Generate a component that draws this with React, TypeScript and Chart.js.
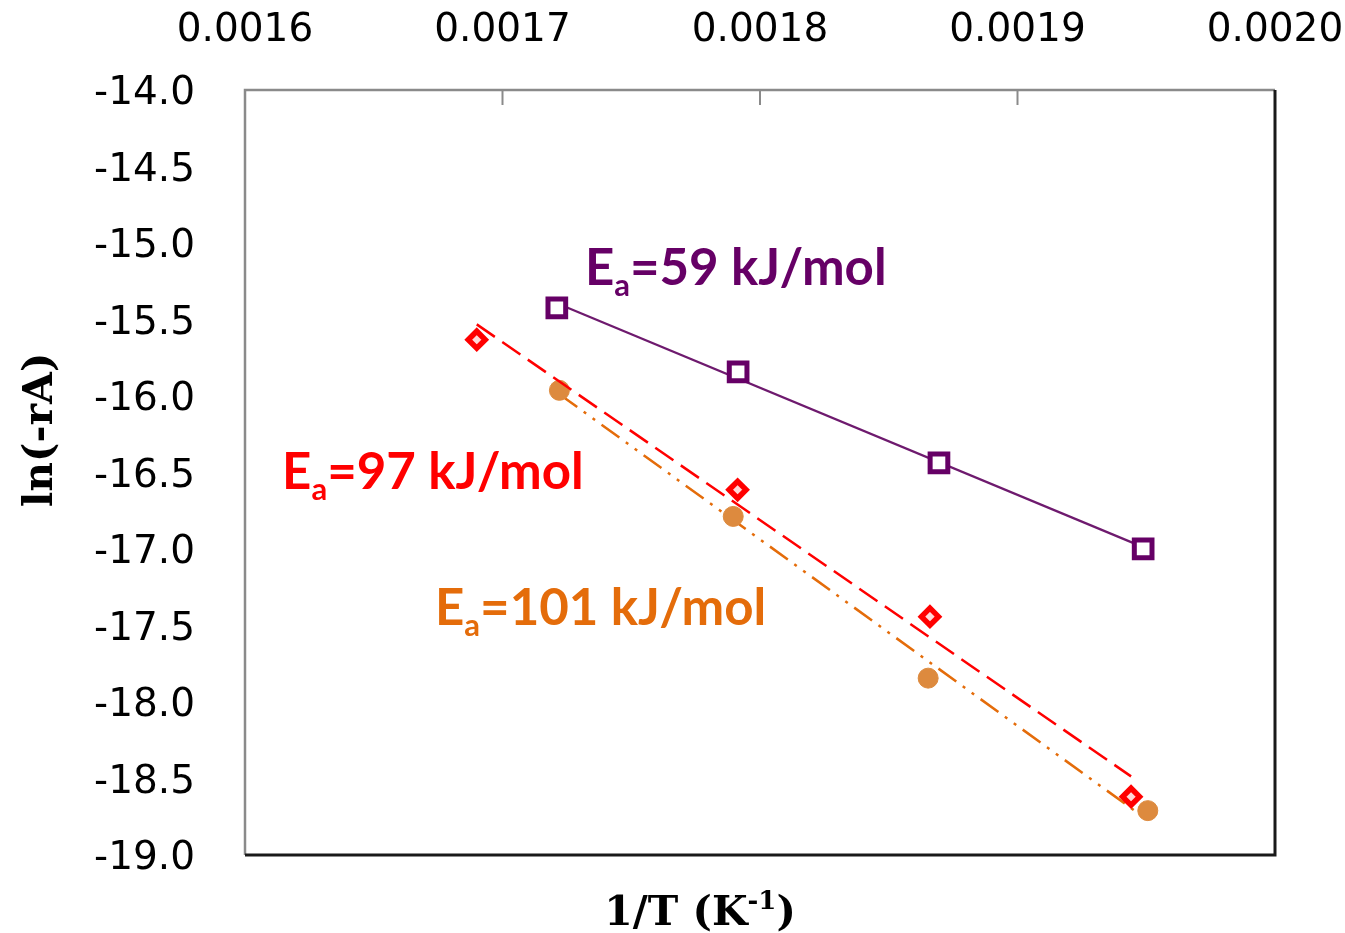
import React, { useEffect, useRef } from "react";
import { Chart, registerables } from "chart.js";

Chart.register(...registerables);

// ---- data ----
const invT59 = [0.0017211, 0.0017915, 0.0018695, 0.0019488];
const lnRate59 = [-15.424, -15.842, -16.437, -16.999];
const invT97 = [0.00169, 0.0017913, 0.001866, 0.0019441];
const lnRate97 = [-15.632, -16.613, -17.442, -18.619];
const invT101 = [0.0017221, 0.0017896, 0.0018653, 0.0019506];
const lnRate101 = [-15.963, -16.787, -17.844, -18.71];

const xTickValues = [0.0016, 0.0017, 0.0018, 0.0019, 0.002];
const yTickValues = [-19, -18.5, -18, -17.5, -17, -16.5, -16, -15.5, -15, -14.5, -14];

const eaLabels = ["59", "97", "101"];
// anchor (left, baseline) of each Ea label in data units
const eaLabelX = [0.001732, 0.0016144, 0.0016738];
const eaLabelY = [-15.272, -16.606, -17.496];

const PURPLE = "#660066";
const RED = "#FF0000";
const ORANGE_PT = "#DD8A3E";
const ORANGE_LINE = "#E46C0A";
const ORANGE_TXT = "#E46C0A";

function pts(xs: number[], ys: number[]) {
  return xs.map((x, i) => ({ x, y: ys[i] }));
}

// least-squares trendline across the data range
function trend(xs: number[], ys: number[]) {
  const n = xs.length;
  const mx = xs.reduce((a, b) => a + b, 0) / n;
  const my = ys.reduce((a, b) => a + b, 0) / n;
  let sxy = 0;
  let sxx = 0;
  for (let i = 0; i < n; i++) {
    sxy += (xs[i] - mx) * (ys[i] - my);
    sxx += (xs[i] - mx) * (xs[i] - mx);
  }
  const m = sxy / sxx;
  const x0 = Math.min(...xs);
  const x1 = Math.max(...xs);
  return [
    { x: x0, y: my + m * (x0 - mx) },
    { x: x1, y: my + m * (x1 - mx) },
  ];
}

const frameAndText = {
  id: "frameAndText",
  afterDraw(chart: any) {
    const ctx = chart.ctx as CanvasRenderingContext2D;
    const { left, right, top, bottom } = chart.chartArea;
    const xs = chart.scales.x;
    const ys = chart.scales.y;
    ctx.save();
    // top / left frame (gray)
    ctx.strokeStyle = "#8A8A8A";
    ctx.lineWidth = 2.5;
    ctx.beginPath();
    ctx.moveTo(left, bottom);
    ctx.lineTo(left, top);
    ctx.lineTo(right, top);
    ctx.stroke();
    // inner tick marks on top axis
    ctx.lineWidth = 2;
    xTickValues.forEach((v) => {
      const px = xs.getPixelForValue(v);
      if (px > left + 2 && px < right - 2) {
        ctx.beginPath();
        ctx.moveTo(px, top);
        ctx.lineTo(px, top + 15);
        ctx.stroke();
      }
    });
    // right / bottom frame (dark)
    ctx.strokeStyle = "#1A1A1A";
    ctx.lineWidth = 3;
    ctx.beginPath();
    ctx.moveTo(right, top);
    ctx.lineTo(right, bottom);
    ctx.lineTo(left, bottom);
    ctx.stroke();

    // y axis title
    ctx.fillStyle = "#000";
    ctx.font = "bold 41px 'DejaVu Serif'";
    ctx.textAlign = "center";
    ctx.textBaseline = "middle";
    ctx.save();
    ctx.translate(41, 430);
    ctx.rotate(-Math.PI / 2);
    ctx.fillText("ln(-rA)", 0, 0);
    ctx.restore();

    // x axis title with superscript
    const mainFont = "bold 41px 'DejaVu Serif'";
    const supFont = "bold 26px 'DejaVu Serif'";
    ctx.textAlign = "left";
    ctx.textBaseline = "alphabetic";
    ctx.font = mainFont;
    const a = "1/T (K";
    const c = ")";
    const wa = ctx.measureText(a).width;
    const wc = ctx.measureText(c).width;
    ctx.font = supFont;
    const b = "-1";
    const wb = ctx.measureText(b).width;
    const total = wa + wb + wc;
    const x0 = 700 - total / 2;
    const base = 925;
    ctx.font = mainFont;
    ctx.fillText(a, x0, base);
    ctx.font = supFont;
    ctx.fillText(b, x0 + wa, base - 16);
    ctx.font = mainFont;
    ctx.fillText(c, x0 + wa + wb, base);

    // Ea annotations
    const colors = [PURPLE, RED, ORANGE_TXT];
    const big = "bold 51px Lato";
    const small = "bold 31px Lato";
    eaLabels.forEach((val, i) => {
      const lx = xs.getPixelForValue(eaLabelX[i]);
      const ly = ys.getPixelForValue(eaLabelY[i]);
      ctx.fillStyle = colors[i];
      ctx.font = big;
      ctx.fillText("E", lx, ly);
      let w = ctx.measureText("E").width;
      ctx.font = small;
      ctx.fillText("a", lx + w, ly + 11);
      w += ctx.measureText("a").width;
      ctx.font = big;
      ctx.fillText("=" + val + " kJ/mol", lx + w, ly);
    });
    ctx.restore();
  },
};

function zeroPad(s: any) {
  s.paddingLeft = 0;
  s.paddingRight = 0;
  s.paddingTop = 0;
  s.paddingBottom = 0;
}

export default function App() {
  const ref = useRef<HTMLCanvasElement | null>(null);
  useEffect(() => {
    document.body.style.margin = "0";
    const canvas = ref.current;
    if (!canvas) return;
    const chart = new Chart(canvas, {
      type: "scatter",
      data: {
        datasets: [
          {
            label: "97 trend",
            data: trend(invT97, lnRate97),
            showLine: true,
            borderColor: RED,
            borderWidth: 2.5,
            borderDash: [22, 9],
            pointRadius: 0,
            order: 1,
          },
          {
            label: "97",
            data: pts(invT97, lnRate97),
            pointStyle: "rectRot",
            pointRadius: 8.5,
            borderWidth: 5.5,
            borderColor: RED,
            backgroundColor: "#FFD8D8",
            order: 2,
          },
          {
            label: "59",
            data: pts(invT59, lnRate59),
            pointStyle: "rect",
            pointRadius: 12.5,
            borderWidth: 5,
            borderColor: PURPLE,
            backgroundColor: "#FFFFFF",
            order: 3,
          },
          {
            label: "59 trend",
            data: trend(invT59, lnRate59),
            showLine: true,
            borderColor: "#6E1A6E",
            borderWidth: 2.2,
            pointRadius: 0,
            order: 4,
          },
          {
            label: "101",
            data: pts(invT101, lnRate101),
            pointStyle: "circle",
            pointRadius: 10,
            borderWidth: 1,
            borderColor: ORANGE_PT,
            backgroundColor: ORANGE_PT,
            order: 5,
          },
          {
            label: "101 trend",
            data: trend(invT101, lnRate101),
            showLine: true,
            borderColor: ORANGE_LINE,
            borderWidth: 2.5,
            borderDash: [22, 8, 3, 8, 3, 8],
            pointRadius: 0,
            order: 6,
          },
        ],
      },
      options: {
        responsive: false,
        animation: false,
        devicePixelRatio: 1,
        layout: { padding: { left: 0, right: 70, top: 0, bottom: 78 } },
        plugins: {
          legend: { display: false },
          tooltip: { enabled: false },
        },
        scales: {
          x: {
            type: "linear",
            position: "top",
            min: 0.0016,
            max: 0.002,
            afterBuildTicks: (s: any) => {
              s.ticks = xTickValues.map((v) => ({ value: v }));
            },
            afterFit: (s: any) => {
              s.height = 90;
              zeroPad(s);
            },
            grid: { display: false, drawTicks: false },
            border: { display: false },
            ticks: {
              autoSkip: false,
              maxRotation: 0,
              padding: 36,
              color: "#000",
              font: { family: "'DejaVu Sans'", size: 39 },
              callback: (v: any) => Number(v).toFixed(4),
            },
          },
          y: {
            type: "linear",
            min: -19,
            max: -14,
            afterBuildTicks: (s: any) => {
              s.ticks = yTickValues.map((v) => ({ value: v }));
            },
            afterFit: (s: any) => {
              s.width = 245;
              zeroPad(s);
            },
            grid: { display: false, drawTicks: false },
            border: { display: false },
            ticks: {
              autoSkip: false,
              padding: 50,
              labelOffset: 4,
              color: "#000",
              font: { family: "'DejaVu Sans'", size: 39 },
              callback: (v: any) => Number(v).toFixed(1),
            },
          },
        },
      },
      plugins: [frameAndText],
    });
    return () => chart.destroy();
  }, []);
  return (
    <div style={{ position: "fixed", left: 0, top: 0, width: 1345, height: 933, background: "#fff" }}>
      <canvas ref={ref} width={1345} height={933} style={{ width: 1345, height: 933, display: "block" }} />
    </div>
  );
}
